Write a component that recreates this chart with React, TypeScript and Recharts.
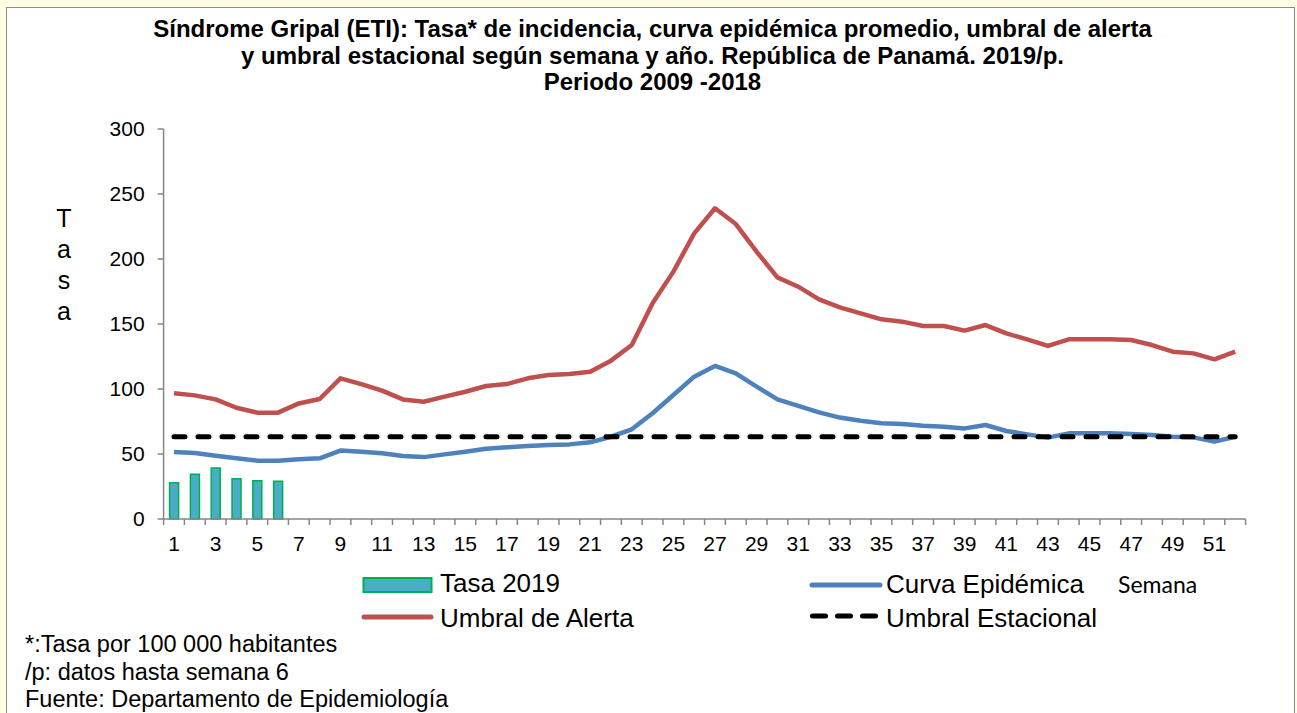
import React from "react";
import { ComposedChart, Bar, Line, XAxis, YAxis } from "recharts";

const weeks = [
  1, 2, 3, 4, 5, 6, 7, 8, 9, 10, 11, 12, 13, 14, 15, 16, 17, 18, 19, 20, 21, 22, 23, 24, 25, 26,
  27, 28, 29, 30, 31, 32, 33, 34, 35, 36, 37, 38, 39, 40, 41, 42, 43, 44, 45, 46, 47, 48, 49, 50, 51, 52,
];

const tasa2019 = [27.9, 34.4, 39.2, 31.0, 29.5, 29.0];

const curvaEpidemica = [
  51.5, 50.8, 48.7, 46.7, 44.9, 44.9, 45.9, 46.7, 52.6, 51.8, 50.5, 48.5, 47.6, 49.7, 51.8, 54.1,
  55.1, 56.2, 56.9, 57.4, 59.0, 63.3, 69.0, 81.3, 95.4, 109.5, 117.7, 112.0, 101.8, 92.0, 87.0, 82.0,
  78.0, 75.6, 73.6, 73.1, 71.8, 71.0, 69.7, 72.3, 67.7, 65.1, 62.6, 65.9, 65.9, 65.9, 65.4, 64.6,
  63.3, 62.8, 59.5, 63.3,
];

const umbralAlerta = [
  96.7, 95.1, 92.0, 85.6, 81.8, 81.8, 88.9, 92.3, 108.2, 103.8, 98.7, 92.0, 90.2, 94.1, 97.9, 102.3,
  103.8, 108.2, 110.8, 111.5, 113.3, 121.8, 133.8, 165.9, 190.3, 219.7, 239.0, 226.9, 205.6, 185.9,
  178.7, 169.0, 162.8, 158.2, 153.6, 151.8, 148.5, 148.5, 144.9, 149.2, 142.8, 138.2, 133.1, 138.2,
  138.2, 138.2, 137.7, 133.8, 128.7, 127.4, 122.8, 128.7,
];

const umbralEstacional = [
  63.3, 63.3, 63.3, 63.3, 63.3, 63.3, 63.3, 63.3, 63.3, 63.3, 63.3, 63.3, 63.3, 63.3, 63.3, 63.3,
  63.3, 63.3, 63.3, 63.3, 63.3, 63.3, 63.3, 63.3, 63.3, 63.3, 63.3, 63.3, 63.3, 63.3, 63.3, 63.3,
  63.3, 63.3, 63.3, 63.3, 63.3, 63.3, 63.3, 63.3, 63.3, 63.3, 63.3, 63.3, 63.3, 63.3, 63.3, 63.3,
  63.3, 63.3, 63.3, 63.3,
];

const yTicks = [0, 50, 100, 150, 200, 250, 300];

const titleLines = [
  "Síndrome Gripal (ETI): Tasa* de incidencia, curva epidémica promedio, umbral de alerta",
  "y umbral estacional según semana y año. República de Panamá. 2019/p.",
  "Periodo 2009 -2018",
];

const footerLines = [
  "*:Tasa por 100 000 habitantes",
  "/p: datos hasta semana 6",
  "Fuente: Departamento de Epidemiología",
];

const data = weeks.map((w, i) => ({
  week: w,
  tasa: i < tasa2019.length ? tasa2019[i] : null,
  curva: curvaEpidemica[i],
  alerta: umbralAlerta[i],
  estacional: umbralEstacional[i],
}));

const FONT = "'Liberation Sans', Arial, Helvetica, sans-serif";
const AXIS = "#868686";

const XTick = (props: any) => {
  const { x, y, payload, index, width } = props;
  const half = (width || 1082) / weeks.length / 2;
  const showLabel = index % 2 === 0;
  return (
    <g>
      <line x1={x - half} x2={x - half} y1={y} y2={y + 6} stroke={AXIS} strokeWidth={1.5} />
      {index === weeks.length - 1 && (
        <line x1={x + half} x2={x + half} y1={y} y2={y + 6} stroke={AXIS} strokeWidth={1.5} />
      )}
      {showLabel && (
        <text x={x} y={y + 32} textAnchor="middle" fontSize={21} fontFamily={FONT} fill="#000">
          {payload.value}
        </text>
      )}
    </g>
  );
};

export default function App() {
  return (
    <div
      style={{
        position: "absolute",
        left: 0,
        top: 0,
        width: 1297,
        height: 713,
        background: "#FEFEE4",
        overflow: "hidden",
      }}
    >
      <div
        style={{
          position: "absolute",
          left: 6,
          top: 7,
          width: 1287,
          height: 720,
          background: "#fff",
          border: "1.5px solid #8C8C84",
        }}
      />
      <div style={{ position: "absolute", left: 0, top: 0 }}>
        <ComposedChart
          width={1297}
          height={713}
          data={data}
          margin={{ top: 129, right: 51.4, bottom: 0, left: 0 }}
        >
          <XAxis
            dataKey="week"
            height={194}
            interval={0}
            tickLine={false}
            tickSize={0}
            tickMargin={0}
            tick={<XTick />}
            axisLine={{ stroke: AXIS, strokeWidth: 1.5 }}
          />
          <YAxis
            width={163.6}
            domain={[0, 300]}
            ticks={yTicks}
            interval={0}
            tickSize={6}
            tickMargin={13}
            tickLine={{ stroke: AXIS, strokeWidth: 1.5 }}
            axisLine={{ stroke: AXIS, strokeWidth: 1.5 }}
            tick={{ fontSize: 21, fill: "#000", fontFamily: FONT }}
          />
          <Bar
            dataKey="tasa"
            barSize={9}
            fill="#4BACC6"
            stroke="#00B050"
            strokeWidth={1.5}
            isAnimationActive={false}
          />
          <Line
            dataKey="curva"
            stroke="#4F81BD"
            strokeWidth={4.5}
            dot={false}
            strokeLinejoin="round"
            isAnimationActive={false}
          />
          <Line
            dataKey="alerta"
            stroke="#C0504D"
            strokeWidth={4.5}
            dot={false}
            strokeLinejoin="round"
            isAnimationActive={false}
          />
          <Line
            dataKey="estacional"
            stroke="#000"
            strokeWidth={5}
            strokeDasharray="11 13"
            strokeLinecap="round"
            dot={false}
            isAnimationActive={false}
          />
        </ComposedChart>
      </div>
      <svg
        width={1297}
        height={713}
        style={{ position: "absolute", left: 0, top: 0, pointerEvents: "none" }}
      >
        {titleLines.map((t, i) => (
          <text
            key={i}
            x={652.5}
            y={37 + i * 26.6}
            textAnchor="middle"
            fontSize={24}
            fontWeight="bold"
            fontFamily={FONT}
            fill="#000"
          >
            {t}
          </text>
        ))}
        {["T", "a", "s", "a"].map((c, i) => (
          <text key={i} x={64} y={227 + i * 31} textAnchor="middle" fontSize={25} fontFamily={FONT} fill="#000">
            {c}
          </text>
        ))}
        <text x={1118} y={593} fontSize={23} fontFamily="Lato, 'Open Sans', sans-serif" fill="#000">
          Semana
        </text>
        {/* legend */}
        <rect x={363.5} y={578} width={68} height={14} fill="#4BACC6" stroke="#00B050" strokeWidth={2} />
        <text x={440} y={592} fontSize={26} fontFamily={FONT} fill="#000">Tasa 2019</text>
        <line x1={812} x2={880} y1={585} y2={585} stroke="#4F81BD" strokeWidth={5} strokeLinecap="round" />
        <text x={886} y={593} fontSize={26} fontFamily={FONT} fill="#000">Curva Epidémica</text>
        <line x1={364} x2={431} y1={617} y2={617} stroke="#C0504D" strokeWidth={5} strokeLinecap="round" />
        <text x={440} y={627} fontSize={26} fontFamily={FONT} fill="#000">Umbral de Alerta</text>
        <line
          x1={812.5}
          x2={875.5}
          y1={616}
          y2={616}
          stroke="#000"
          strokeWidth={5}
          strokeDasharray="13 12"
          strokeLinecap="round"
        />
        <text x={886} y={627} fontSize={26} fontFamily={FONT} fill="#000">Umbral Estacional</text>
        {footerLines.map((t, i) => (
          <text key={i} x={25} y={652 + i * 27.5} fontSize={23.5} fontFamily={FONT} fill="#000">
            {t}
          </text>
        ))}
      </svg>
    </div>
  );
}
